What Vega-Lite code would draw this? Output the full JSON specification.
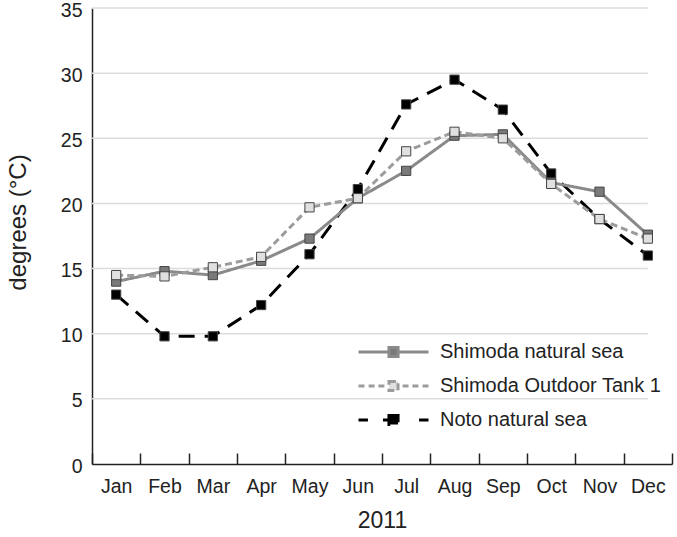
{
  "$schema": "https://vega.github.io/schema/vega-lite/v6.json",
  "autosize": {"type": "none"},
  "width": 580,
  "height": 456,
  "padding": {"left": 92, "top": 8, "right": 5, "bottom": 73},
  "background": "white",
  "config": {
    "font": "Liberation Sans",
    "view": {"stroke": null}
  },
  "datasets": {
    "temps": [
      {"month": "Jan", "series": "Noto natural sea", "value": 13.0},
      {"month": "Feb", "series": "Noto natural sea", "value": 9.8},
      {"month": "Mar", "series": "Noto natural sea", "value": 9.8},
      {"month": "Apr", "series": "Noto natural sea", "value": 12.2},
      {"month": "May", "series": "Noto natural sea", "value": 16.1},
      {"month": "Jun", "series": "Noto natural sea", "value": 21.1},
      {"month": "Jul", "series": "Noto natural sea", "value": 27.6},
      {"month": "Aug", "series": "Noto natural sea", "value": 29.5},
      {"month": "Sep", "series": "Noto natural sea", "value": 27.2},
      {"month": "Oct", "series": "Noto natural sea", "value": 22.3},
      {"month": "Nov", "series": "Noto natural sea", "value": 18.8},
      {"month": "Dec", "series": "Noto natural sea", "value": 16.0},
      {"month": "Jan", "series": "Shimoda natural sea", "value": 14.0},
      {"month": "Feb", "series": "Shimoda natural sea", "value": 14.8},
      {"month": "Mar", "series": "Shimoda natural sea", "value": 14.5},
      {"month": "Apr", "series": "Shimoda natural sea", "value": 15.6},
      {"month": "May", "series": "Shimoda natural sea", "value": 17.3},
      {"month": "Jun", "series": "Shimoda natural sea", "value": 20.4},
      {"month": "Jul", "series": "Shimoda natural sea", "value": 22.5},
      {"month": "Aug", "series": "Shimoda natural sea", "value": 25.2},
      {"month": "Sep", "series": "Shimoda natural sea", "value": 25.3},
      {"month": "Oct", "series": "Shimoda natural sea", "value": 21.6},
      {"month": "Nov", "series": "Shimoda natural sea", "value": 20.9},
      {"month": "Dec", "series": "Shimoda natural sea", "value": 17.6},
      {"month": "Jan", "series": "Shimoda Outdoor Tank 1", "value": 14.5},
      {"month": "Feb", "series": "Shimoda Outdoor Tank 1", "value": 14.4},
      {"month": "Mar", "series": "Shimoda Outdoor Tank 1", "value": 15.1},
      {"month": "Apr", "series": "Shimoda Outdoor Tank 1", "value": 15.9},
      {"month": "May", "series": "Shimoda Outdoor Tank 1", "value": 19.7},
      {"month": "Jun", "series": "Shimoda Outdoor Tank 1", "value": 20.4},
      {"month": "Jul", "series": "Shimoda Outdoor Tank 1", "value": 24.0},
      {"month": "Aug", "series": "Shimoda Outdoor Tank 1", "value": 25.5},
      {"month": "Sep", "series": "Shimoda Outdoor Tank 1", "value": 25.0},
      {"month": "Oct", "series": "Shimoda Outdoor Tank 1", "value": 21.5},
      {"month": "Nov", "series": "Shimoda Outdoor Tank 1", "value": 18.8},
      {"month": "Dec", "series": "Shimoda Outdoor Tank 1", "value": 17.3}
    ],
    "grid": [
      {"level": 5}, {"level": 10}, {"level": 15}, {"level": 20},
      {"level": 25}, {"level": 30}, {"level": 35}
    ]
  },
  "encoding": {
    "x": {
      "field": "month",
      "type": "ordinal",
      "sort": ["Jan", "Feb", "Mar", "Apr", "May", "Jun", "Jul", "Aug", "Sep", "Oct", "Nov", "Dec"],
      "scale": {"type": "band", "paddingInner": 0, "paddingOuter": 0, "domain": ["Jan", "Feb", "Mar", "Apr", "May", "Jun", "Jul", "Aug", "Sep", "Oct", "Nov", "Dec"]},
      "axis": {
        "title": "2011",
        "titleFontSize": 23,
        "titleFontWeight": "normal",
        "titleColor": "#222",
        "titlePadding": 14,
        "labelAngle": 0,
        "labelFontSize": 19.5,
        "labelColor": "#222",
        "labelPadding": 24,
        "tickBand": "extent",
        "tickSize": -11,
        "tickColor": "#222",
        "tickWidth": 1.5,
        "domainColor": "#222",
        "domainWidth": 1.5,
        "grid": false
      }
    }
  },
  "layer": [
    {
      "data": {"name": "grid"},
      "mark": {"type": "rule", "color": "#dcdcdc", "strokeWidth": 1.5},
      "encoding": {
        "x": {"datum": "Jan", "bandPosition": 0},
        "x2": {"datum": "Dec"},
        "y": {"field": "level", "type": "quantitative"}
      }
    },
    {
      "data": {"name": "temps"},
      "mark": {"type": "line", "strokeWidth": 3},
      "encoding": {
        "y": {
          "field": "value",
          "type": "quantitative",
          "scale": {"domain": [0, 35], "nice": false, "zero": true},
          "axis": {
            "title": "degrees (°C)",
            "titleFontSize": 24,
            "titleFontWeight": "normal",
            "titleColor": "#222",
            "titlePadding": 30,
            "titleY": 214,
            "values": [0, 5, 10, 15, 20, 25, 30, 35],
            "labelFontSize": 19.5,
            "labelColor": "#222",
            "labelPadding": 10,
            "labelOffset": 2,
            "ticks": false,
            "grid": false,
            "domainColor": "#222",
            "domainWidth": 1.5
          }
        },
        "color": {
          "field": "series",
          "type": "nominal",
          "scale": {
            "domain": ["Shimoda natural sea", "Shimoda Outdoor Tank 1", "Noto natural sea"],
            "range": ["#8a8a8a", "#9c9c9c", "#000000"]
          },
          "legend": {
            "title": null,
            "orient": "none",
            "legendX": 265,
            "legendY": 333,
            "labelFontSize": 20,
            "labelColor": "#222",
            "labelOffset": 10,
            "labelLimit": 400,
            "clipHeight": 22,
            "rowPadding": 12,
            "symbolSize": 4900,
            "symbolStrokeWidth": 3,
            "encode": {
              "symbols": {
                "update": {
                  "shape": {"signal": "datum.value === 'Noto natural sea' ? 'M-1,0H-0.73M-0.3,0H0.3M0.73,0H1M-0.13,-0.13H0.13V0.13H-0.13Z' : datum.value === 'Shimoda Outdoor Tank 1' ? 'M-1,0H-0.83M-0.71,0H-0.54M-0.43,0H-0.26M-0.13,-0.13H0.13V0.13H-0.13ZM0.26,0H0.43M0.54,0H0.71M0.83,0H1' : 'M-1,0H-0.13M0.13,0H1M-0.13,-0.13H0.13V0.13H-0.13Z'"},
                  "fill": {"signal": "datum.value === 'Noto natural sea' ? '#000000' : datum.value === 'Shimoda Outdoor Tank 1' ? '#e0e0e0' : '#7a7a7a'"},
                  "fillOpacity": {"value": 1},
                  "opacity": {"value": 1}
                }
              }
            }
          }
        },
        "strokeDash": {
          "field": "series",
          "type": "nominal",
          "scale": {
            "domain": ["Shimoda natural sea", "Shimoda Outdoor Tank 1", "Noto natural sea"],
            "range": [[1, 0], [7, 4], [16, 10]]
          },
          "legend": null
        }
      }
    },
    {
      "data": {"name": "temps"},
      "mark": {"type": "point", "shape": "square", "filled": true, "size": 85, "opacity": 1, "stroke": "#444", "strokeWidth": 1},
      "encoding": {
        "y": {"field": "value", "type": "quantitative"},
        "fill": {
          "field": "series",
          "type": "nominal",
          "scale": {
            "domain": ["Shimoda natural sea", "Shimoda Outdoor Tank 1", "Noto natural sea"],
            "range": ["#7a7a7a", "#e0e0e0", "#000000"]
          },
          "legend": null
        }
      }
    }
  ]
}
